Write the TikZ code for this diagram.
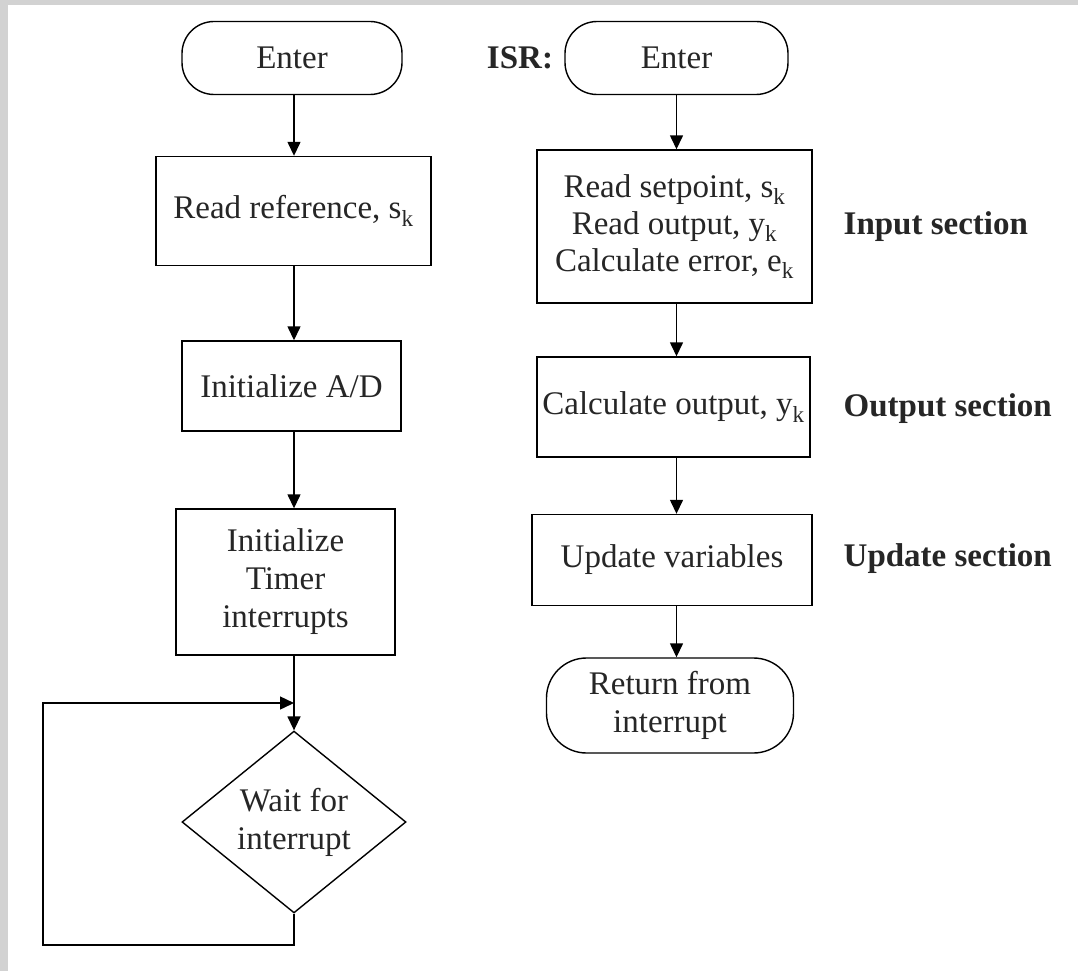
\documentclass[tikz,border=0pt]{standalone}
\usepackage{fontspec}
\setmainfont{Liberation Serif}
\usetikzlibrary{arrows.meta}
\usetikzlibrary{shapes.geometric}

\begin{document}
\begin{tikzpicture}[
    x=1pt, y=-1pt,
    >={Triangle[length=14pt,width=13pt]},
    every node/.style={font=\fontsize{33}{38}\selectfont, align=center, inner sep=0pt, text=black!85},
    line width=1.4pt,
    term/.style={draw, rectangle, rounded corners=32pt},
    proc/.style={draw, rectangle},
    dec/.style={draw, diamond},
    lbl/.style={anchor=west, font=\fontsize{33}{38}\selectfont\bfseries}
]

% page and grey edge
\useasboundingbox (0,0) rectangle (1078,971);
\fill[gray!35] (0,0) rectangle (1078,971);
\fill[white] (8,5) rectangle (1078,971);

% Main program
\node[term, minimum width=220pt, minimum height=73pt] (enterA) at (292,58) {Enter};
\node[proc, minimum width=275pt, minimum height=109pt] (readref) at (293.5,211) {Read reference, s\textsubscript{k}};
\node[proc, minimum width=219pt, minimum height=90pt] (initad) at (291.5,386) {Initialize A/D};
\node[proc, minimum width=219pt, minimum height=146pt] (timer) at (285.5,582) {Initialize\\Timer\\interrupts};
\node[dec, minimum width=224pt, minimum height=169pt] (wait) at (294,822) {Wait for\\interrupt};

\coordinate (lpb) at (43,945);
\coordinate (lpt) at (43,703);

\draw[->] (wait.north |- enterA.south) -- (wait.north |- readref.north);
\draw[->] (wait.north |- readref.south) -- (wait.north |- initad.north);
\draw[->] (wait.north |- initad.south) -- (wait.north |- timer.north);
\draw[->] (wait.north |- timer.south) -- (wait.north);
\draw[->] (wait.south) |- (lpb) -- (lpt) -- (wait.north |- lpt);

% ISR
\node[font=\fontsize{33}{38}\selectfont\bfseries] (isr) at (520,58) {ISR:};
\node[term, minimum width=223pt, minimum height=73pt] (enterB) at (676.5,58) {Enter};
\node[proc, minimum width=275pt, minimum height=153pt,
      font=\fontsize{33}{37}\selectfont] (insec) at (674.5,226.5)
      {Read setpoint, s\textsubscript{k}\\Read output, y\textsubscript{k}\\Calculate error, e\textsubscript{k}};
\node[proc, minimum width=273pt, minimum height=100pt] (outsec) at (673.5,407) {Calculate output, y\textsubscript{k}};
\node[proc, minimum width=280pt, minimum height=91pt] (upd) at (672,560) {Update variables};
\node[term, minimum width=247pt, minimum height=95pt, rounded corners=40pt] (ret) at (670,705.5) {Return from\\interrupt};

\draw[->] (enterB.south) -- (enterB.south |- insec.north);
\draw[->] (enterB.south |- insec.south) -- (enterB.south |- outsec.north);
\draw[->] (enterB.south |- outsec.south) -- (enterB.south |- upd.north);
\draw[->] (enterB.south |- upd.south) -- (enterB.south |- ret.north);

\node[lbl] (inlbl) at (843,227) {Input section};
\node[lbl] (outlbl) at (843,409) {Output section};
\node[lbl] (updlbl) at (843,559) {Update section};

\end{tikzpicture}
\end{document}
